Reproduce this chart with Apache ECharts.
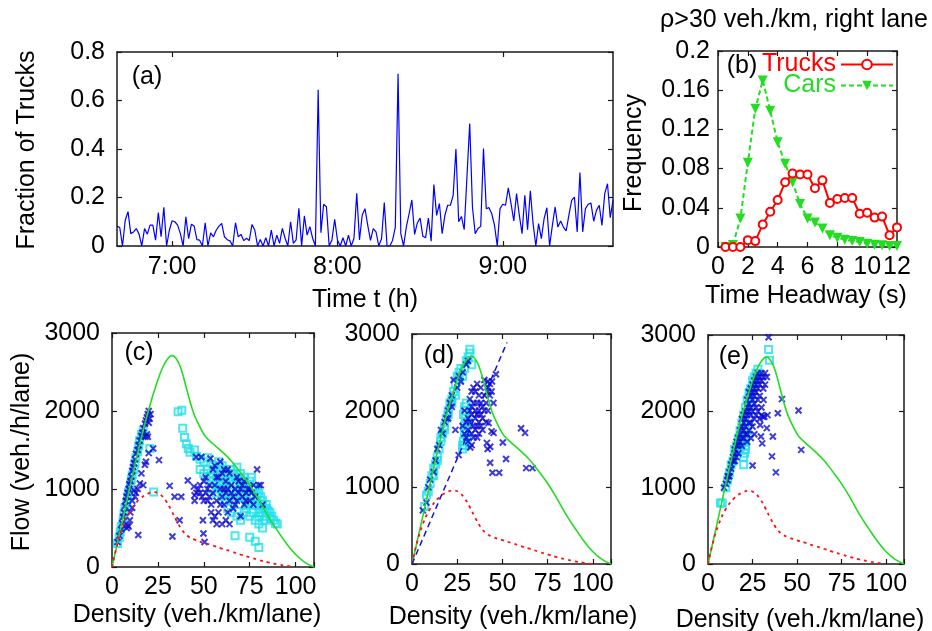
<!DOCTYPE html>
<html>
<head>
<meta charset="utf-8">
<script src="https://cdn.jsdelivr.net/npm/echarts@6/dist/echarts.min.js"></script>
<style>
  html, body { margin: 0; background: #fff; }
  #chart { width: 932px; height: 631px; }
</style>
</head>
<body>
<div id="chart"></div>
<script>
const FONT = 'Liberation Sans';
const FS = 25;

// (a) fraction of trucks, one value per minute from 6:40
const startMinute = 40; // minutes after 6:00
const truckFraction = [
  0.082,0.076,0,0.107,0.142,0.051,0.058,0.072,0.049,0,
  0.072,0.049,0.086,0.086,0.024,0.138,0.038,0.16,0,0.065,
  0.104,0.1,0.086,0.051,0,0.12,0.03,0.09,0.082,0.026,
  0.024,0,0.096,0,0.054,0.038,0.065,0.082,0.093,0.038,
  0.026,0.021,0,0.096,0.038,
  0.048,0.022,0.032,0.022,0.089,0.066,0,0.027,0,0.034,
  0,0.066,0,0.045,0.011,0.073,0.032,0,0.1,0.011,
  0.025,0.155,0,0.124,0.045,0.08,0.032,0,0.644,0.055,
  0.172,0.162,0,0.025,0.11,0.025,0,0.034,0,0.045,
  0,0.032,0.217,0.025,0.128,
  0.154,0.085,0.023,0.072,0.058,0,0.03,0.179,0,0,
  0.023,0.078,0.71,0.051,0,0.078,0.133,0.19,0.048,0.095,
  0.115,0.04,0.034,0.115,0.02,0.253,0.126,0.175,0.051,0.126,
  0.168,0.168,0.209,0.4,0.1,0.122,0.067,0.285,0.505,0.16,
  0.051,0.072,0.081,0.402,0.154,
  0.158,0.133,0.085,0,0.154,0.172,0.168,0.24,0.175,0.103,
  0.216,0.127,0.051,0.209,0.067,0.228,0.092,0,0.092,0.03,
  0.113,0.158,0,0.085,0.161,0.078,0.103,0.078,0.062,0.127,
  0.188,0.202,0.058,0.303,0.058,0.154,0.172,0.177,0.102,0.147,
  0.168,0.085,0.216,0.257,0.117,0.188
];
const timeTicks = [60, 120, 180];

// (b) time headway distribution
const headway = [0.5,1,1.5,2,2.5,3,3.5,4,4.5,5,5.5,6,6.5,7,7.5,8,8.5,9,9.5,10,10.5,11,11.5,12];
const truckFreq = [0,0,0,0.007,0.006,0.023,0.036,0.048,0.066,0.075,0.074,0.074,0.060,0.068,0.045,0.049,0.050,0.050,0.034,0.035,0.030,0.031,0.012,0.020];
const carFreq = [0,0.002,0.029,0.086,0.141,0.170,0.139,0.107,0.085,0.066,0.044,0.029,0.025,0.019,0.012,0.0095,0.0075,0.006,0.005,0.0034,0.0024,0.0017,0.001,0.001];

// fundamental diagram curves (density, flow)
const greenCurve = [[0,0],[5,520],[10,1050],[15,1560],[20,2020],[25,2400],[28,2580],[31,2690],[33,2710],[35,2670],[37,2580],[39,2430],[41,2250],[43,2080],[45,1940],[48,1790],[51,1670],[55,1580],[60,1475],[65,1360],[70,1210],[75,1050],[80,860],[85,650],[90,470],[95,300],[100,160],[105,60],[110,0]];
const redCurve = [[0,0],[3,300],[6,520],[10,720],[15,870],[20,945],[23,960],[26,935],[29,860],[32,740],[35,600],[38,480],[41,400],[45,350],[50,310],[55,275],[60,235],[65,200],[70,160],[75,125],[80,90],[85,60],[90,35],[95,15],[99,0]];
const dashedLine = [[0,0],[52.5,2890]];

// (c)
const cCyan = [[3,300],[4,380],[4.5,450],[5,520],[6,600],[6.5,680],[7,760],[8,820],[8.5,900],[9,960],[10,1050],[10.5,1120],[11,1180],[12,1250],[12.5,1330],[13,1400],[14,1480],[14.5,1550],[15,1620],[16,1700],[17,1750],[20.6,1520],[22.7,960],
  [36,1990],[38,2010],[38.5,1780],[39.5,1660],[40.5,1580],[41.5,1520],[42.5,1470],[45,1500],[46,1420],[48,1380],[50,1350],[52,1400],[55,1300],[58,1350],[60,1300],[62,1250],[65,1250],[68,1280],[70,1200],[72,1150],[75,1100],[78,1000],[80,950],[82,850],[84,800],[86,700],[88,600],[90,550],
  [52,1250],[55,1200],[55,1100],[58,1000],[60,900],[62,850],[63,750],[65,700],[68,650],[70,600],[72,700],[75,650],[78,600],[80,550],[82,500],[73,750],[76,800],[80,700],[84,650],[67,400],[75,380],[78,330],[80,250],[70,800],[60,1050],[57,950],[65,900],[77,900],[81,800],[83,750],[86,620],[89,560],[58,1150],[62,1100],[66,1050],[70,1050],[74,1000],[63,1200],[67,1150],[71,950],[76,1150],[79,850],[54,1000],[50,1200],[48,1250],
  [53,1150],[56,1250],[59,1250],[61,1150],[64,1100],[66,1200],[69,1150],[71,1100],[73,1050],[77,1000],[79,950],[81,900],[84,750],[60,1000],[64,1000],[68,1000],[72,900],[75,900],[78,800],[82,700],[66,850],[70,900],[74,800],[77,700],[80,650],[83,600],[62,950],[57,1050],[85,720],[87,650]];
const cBlue = [[3,320],[4,400],[5,480],[5.5,560],[6,640],[6.5,700],[7,780],[7.5,850],[8,900],[8.5,950],[9,1000],[9.5,1060],[10,1100],[10.5,1160],[11,1230],[11.5,1280],[12,1330],[12.5,1380],[13,1450],[14,1500],[14.5,1560],[15,1620],[16,1680],[16.5,1720],[17,1780],[18,1840],[18.5,1880],[19,1920],[19.5,1960],[20,2000],[20.5,1900],[21,1960],[20,1850],[19,1700],
  [8,500],[9,520],[8.5,535],[9.7,600],[10,700],[11,760],[12,980],[13,950],[14,1000],[15.2,1070],[17,1050],[17.9,1310],[18.5,1350],[18.2,1670],[19.5,1670],[14.3,410],[20,1460],[22.4,1520],[25.6,1370],[12.5,900],[11,850],[16,1200],
  [31.4,1040],[34.1,900],[37.7,900],[36.8,600],[32.9,390],[41.3,1110],[44.6,1030],[45,920],[45,850],[49.5,600],[49.8,430],[50.4,320],[45.8,1410],[48.6,1410],[53.6,1390],
  [46,950],[47,1000],[48,1050],[49,900],[50,850],[50,1100],[51,1150],[52,1000],[53,900],[54,800],[55,1250],[55,950],[56,1050],[57,850],[58,1150],[59,1000],[60,1200],[60,900],[61,800],[62,1100],[62,950],[63,1000],[63,700],[64,850],[64,1200],[65,1050],[66,900],[66,750],[67,1000],[68,1150],[68,850],[69,950],[70,1000],[70,650],[71,900],[72,1100],[72,800],[73,950],[74,1000],[75,850],[76,950],[77,1050],[78,900],[79,1250],[80,1050],[81,1050],[82,800],[62,600],[64,550],[60,550],[57,550],[55,600],[58,700],[52,850],[48,950],[56,1300],[59,1350],[61,1250],[63,1250],[54,700],[56,650],[59,800],[61,1000],[65,950],[67,800],[69,1100],[71,1050],[73,850],[75,1000],[77,800],[57,1150],[53,1050],[51,950]];

// (d)
const dCyan = [[7,750],[8,900],[9,950],[10,1050],[11,1150],[12,1250],[13,1300],[14,1400],[15,1500],[16,1650],[17,1700],[18,1800],[19,1900],[20,2000],[21,2100],[22,2150],[23,2250],[24,2350],[25,2450],[26,2500],[27,2550],[28,2450],[29,2550],[30,2650],[31,2700],[32,2750],[32,2800],[33,2600],[12,1150],[14,1350],[16,1600],[18,1750],[20,1950],[22,2100],[24,2200],[26,2400],
  [28,1500],[28.5,1600],[29,1700],[29,1800],[29.5,1900],[30,2000],[30,2100],[30.5,1650],[28,1550],[29,1550],[30,1750],[31,1850],[29,2050],[28.5,1950]];
const dBlue = [[6,700],[8,800],[9,1000],[10,1100],[12,1200],[13,1350],[14,1500],[15,1550],[17,1700],[18,1850],[19,1900],[20,2000],[21,2100],[22,2200],[23,2400],[25,2300],[26,2450],[27,2380],[28,2500],[30,2600],[31,2650],[24,1750],[25.8,1420],[20,1900],[16,1750],[22,2050],
  [28,1800],[29,1700],[30,1650],[31,1900],[31,1750],[32,2000],[32,1850],[33,1700],[33,1950],[34,2100],[34,1800],[35,2000],[35,1900],[35,2250],[36,2100],[36,1950],[36,1800],[37,2000],[37,2200],[37,1850],[38,2100],[38,1950],[38,2300],[39,2050],[39,1900],[40,2200],[40,2000],[40,2400],[41,2100],[41,1850],[42,2300],[42,2250],[42,2000],[43,2350],[43,2200],[33,2250],[32,2150],[34,2300],[36,2350],[30,1850],[29,2000],[31,1600],[33,1550],[36,1650],[39,1750],[34,1650],[37,1700],[33,2050],[35,1750],[38,1800],[32.2,1520],
  [46.4,2475],[45,2100],[44.2,2380],[42,2380],[44,2250],[42.3,1840],[44,1730],[45.1,1710],[41.4,1580],[43.2,1530],[41.8,1500],[43.2,1320],[44.5,1190],[48.2,1190],[50.2,1585],[52,1370],[60.3,1770],[62.5,1710],[63.1,1250],[66.6,1250]];

// (e)
const eCyan = [[7,800],[8,800],[10,1000],[11,1100],[12,1200],[13,1300],[14,1350],[15,1500],[16,1550],[17,1650],[18,1750],[19,1850],[20,1950],[21,2050],[22,2150],[23,2250],[24,2300],[25,2400],[26,2450],[27,2500],[28,2550],[20,1300],[20,1400],[20.5,1450],[21,1500],[21,1550],[20,1600],[19.5,1700],[19,1650],[18,1500],[22,1750],[34,2810],[34.5,2670],[23,1900],[24,2100],[21,1650]];
const eBlue = [[9,1000],[10,1050],[11,1150],[12,1200],[13,1300],[13,1250],[14,1400],[14,1350],[15,1450],[15,1500],[16,1550],[16,1600],[17,1650],[17,1550],[18,1700],[18,1750],[18,1600],[19,1800],[19,1650],[19,1900],[20,1850],[20,1950],[20,1750],[21,2000],[21,1900],[21,1800],[22,2050],[22,1950],[22,2150],[22,1700],[23,2100],[23,2000],[23,2250],[23,1850],[24,2200],[24,2050],[24,2300],[24,1950],[25,2250],[25,2150],[25,2350],[25,2000],[26,2300],[26,2200],[26,2400],[26,2100],[27,2350],[27,2250],[27,2450],[27,2050],[28,2400],[28,2300],[28,2500],[28,2150],[29,2450],[29,2350],[29,2200],[30,2500],[30,2400],[30,2050],[31,2450],[31,2300],[32,2500],[32,2350],[33,2450],[20,1650],[21,1700],[23,1750],[24,1850],[26,1900],[27,1950],[25,1800],[22,1600],[19,1550],[17,1450],[16,1400],[15,1350],[12,1150],[11,1100],[28,2000],[29,1900],[30,1950],[24,1650],[26,1700],
  [34,2970],[41.5,2160],[39.2,1975],[50.8,2010],[52.3,1495],[36.4,1670],[35.9,1410],[38.1,1200],[29.7,1670],[30.4,1580],[29.3,1820],[25,1290],[33,1780],[33.4,1950],[31.6,1930],[30.8,1930],[31.2,2150]];

const chart = echarts.init(document.getElementById('chart'));

const BORDER = '#1a1a1a';
const axisLine = { show: true, onZero: false, lineStyle: { color: BORDER, width: 1.5 } };
const xAxes = [], yAxes = [];

function addAxes(g, o) {
  const tickX = { show: true, inside: true, length: 5, lineStyle: { color: BORDER, width: 1.2 } };
  const labX = { fontFamily: FONT, fontSize: FS, color: '#000', margin: o.xm, formatter: o.xfmt };
  if (o.xcustom) { tickX.customValues = o.xcustom; labX.customValues = o.xcustom; }
  const bx = { gridIndex: g, type: 'value', min: o.xmin, max: o.xmax, interval: o.xint,
    splitLine: { show: false }, axisLine, axisTick: tickX };
  xAxes.push(Object.assign({}, bx, { position: 'bottom', axisLabel: labX }));
  xAxes.push(Object.assign({}, bx, { position: 'top', axisLabel: { show: false } }));
  const by = { gridIndex: g, type: 'value', min: o.ymin, max: o.ymax, interval: o.yint,
    splitLine: { show: false }, axisLine,
    axisTick: { show: true, inside: true, length: 5, lineStyle: { color: BORDER, width: 1.2 } } };
  yAxes.push(Object.assign({}, by, { position: 'left',
    axisLabel: { fontFamily: FONT, fontSize: FS, color: '#000', margin: o.ym, formatter: v => String(v) } }));
  yAxes.push(Object.assign({}, by, { position: 'right', axisLabel: { show: false } }));
}

const hide110 = v => (v === 110 ? '' : String(v));
addAxes(0, { xmin: 40, xmax: 220, xcustom: timeTicks, xm: 9,
  xfmt: v => (6 + v / 60) + ':00', ymin: 0, ymax: 0.8, yint: 0.2, ym: 12 });
addAxes(1, { xmin: 0, xmax: 12, xint: 2, xm: 8, ymin: 0, ymax: 0.2, yint: 0.04, ym: 8 });
addAxes(2, { xmin: 0, xmax: 110, xint: 25, xm: 8, xfmt: hide110, ymin: 0, ymax: 3000, yint: 1000, ym: 12 });
addAxes(3, { xmin: 0, xmax: 110, xint: 25, xm: 8, xfmt: hide110, ymin: 0, ymax: 3000, yint: 1000, ym: 12 });
addAxes(4, { xmin: 0, xmax: 110, xint: 25, xm: 8, xfmt: hide110, ymin: 0, ymax: 3000, yint: 1000, ym: 12 });

const grids = [
  { left: 117, top: 52, width: 496, height: 194 },
  { left: 718, top: 51, width: 179, height: 196 },
  { left: 112, top: 333, width: 202, height: 234 },
  { left: 412, top: 334, width: 199, height: 230 },
  { left: 708, top: 335, width: 196, height: 229 }
];

const CROSS = 'path://M0,0L10,10M10,0L0,10';
function cyanSeries(g, data) {
  return { type: 'scatter', xAxisIndex: 2 * g, yAxisIndex: 2 * g, data, symbol: 'rect', symbolSize: 7,
    itemStyle: { color: 'rgba(0,0,0,0)', borderColor: '#1ee0ea', borderWidth: 2 }, silent: true, z: 2 };
}
function blueSeries(g, data) {
  return { type: 'scatter', xAxisIndex: 2 * g, yAxisIndex: 2 * g, data, symbol: CROSS, symbolSize: 6,
    itemStyle: { color: 'rgba(0,0,0,0)', borderColor: '#0c0cd0', borderWidth: 2 }, silent: true, z: 3 };
}
function curveSeries(g) {
  return [
    { type: 'line', xAxisIndex: 2 * g, yAxisIndex: 2 * g, data: greenCurve, smooth: 0.4, showSymbol: false,
      lineStyle: { color: '#22dd22', width: 1.6 }, silent: true, z: 4 },
    { type: 'line', xAxisIndex: 2 * g, yAxisIndex: 2 * g, data: redCurve, smooth: 0.4, showSymbol: false,
      lineStyle: { color: '#ff1111', width: 1.8, type: [3, 4] }, silent: true, z: 4 }
  ];
}

const series = [
  { type: 'line', xAxisIndex: 0, yAxisIndex: 0, showSymbol: false, silent: true,
    data: truckFraction.map((v, i) => [startMinute + i, v]),
    lineStyle: { color: '#0000ff', width: 1.2 } },
  { name: 'Trucks', type: 'line', xAxisIndex: 2, yAxisIndex: 2, data: headway.map((h, i) => [h, truckFreq[i]]),
    symbol: 'emptyCircle', symbolSize: 8, color: '#ff0000',
    lineStyle: { color: '#ff0000', width: 2 }, itemStyle: { color: '#ff0000', borderWidth: 2 }, z: 3 },
  { name: 'Cars', type: 'line', xAxisIndex: 2, yAxisIndex: 2, data: headway.map((h, i) => [h, carFreq[i]]),
    symbol: 'triangle', symbolRotate: 180, symbolSize: 10, color: '#22dd22',
    lineStyle: { color: '#22dd22', width: 2, type: [5, 3] }, itemStyle: { color: '#22dd22' }, z: 2 },
  cyanSeries(2, cCyan), blueSeries(2, cBlue), ...curveSeries(2),
  cyanSeries(3, dCyan), blueSeries(3, dBlue), ...curveSeries(3),
  { type: 'line', xAxisIndex: 6, yAxisIndex: 6, data: dashedLine, showSymbol: false, silent: true,
    lineStyle: { color: '#1414d8', width: 1.5, type: [6, 4] }, z: 4 },
  cyanSeries(4, eCyan), blueSeries(4, eBlue), ...curveSeries(4)
];

function txt(x, y, text, opts) {
  return Object.assign({ type: 'text', x, y, silent: true,
    style: Object.assign({ text, fontFamily: FONT, fontSize: FS, fill: '#000', align: 'center', verticalAlign: 'middle' },
      opts && opts.style) }, opts && opts.rot ? { rotation: Math.PI / 2 } : {});
}

const graphic = [
  txt(147, 77, '(a)'),
  txt(27, 150, 'Fraction of Trucks', { rot: true }),
  txt(365, 300, 'Time t (h)'),
  txt(794, 20, 'ρ>30 veh./km, right lane'),
  txt(742, 66, '(b)'),
  txt(634, 153, 'Frequency', { rot: true }),
  txt(806, 296, 'Time Headway (s)'),
  txt(22, 452, 'Flow (veh./h/lane)', { rot: true }),
  txt(139, 353, '(c)'),
  txt(439, 356, '(d)'),
  txt(734, 357, '(e)'),
  txt(197, 615, 'Density (veh./km/lane)'),
  txt(513, 617, 'Density (veh./km/lane)'),
  txt(800, 620, 'Density (veh./km/lane)')
];

const legendBase = { orient: 'horizontal', align: 'right', right: 38, itemWidth: 52, itemHeight: 12,
  textStyle: { fontFamily: FONT, fontSize: FS }, selectedMode: false, padding: 0 };

chart.setOption({
  animation: false,
  grid: grids,
  xAxis: xAxes,
  yAxis: yAxes,
  legend: [
    Object.assign({}, legendBase, { top: 52, data: [{ name: 'Trucks', textStyle: { color: '#ff0000' } }] }),
    Object.assign({}, legendBase, { top: 73, data: [{ name: 'Cars', textStyle: { color: '#22dd22' } }] })
  ],
  series,
  graphic
});
</script>
</body>
</html>
